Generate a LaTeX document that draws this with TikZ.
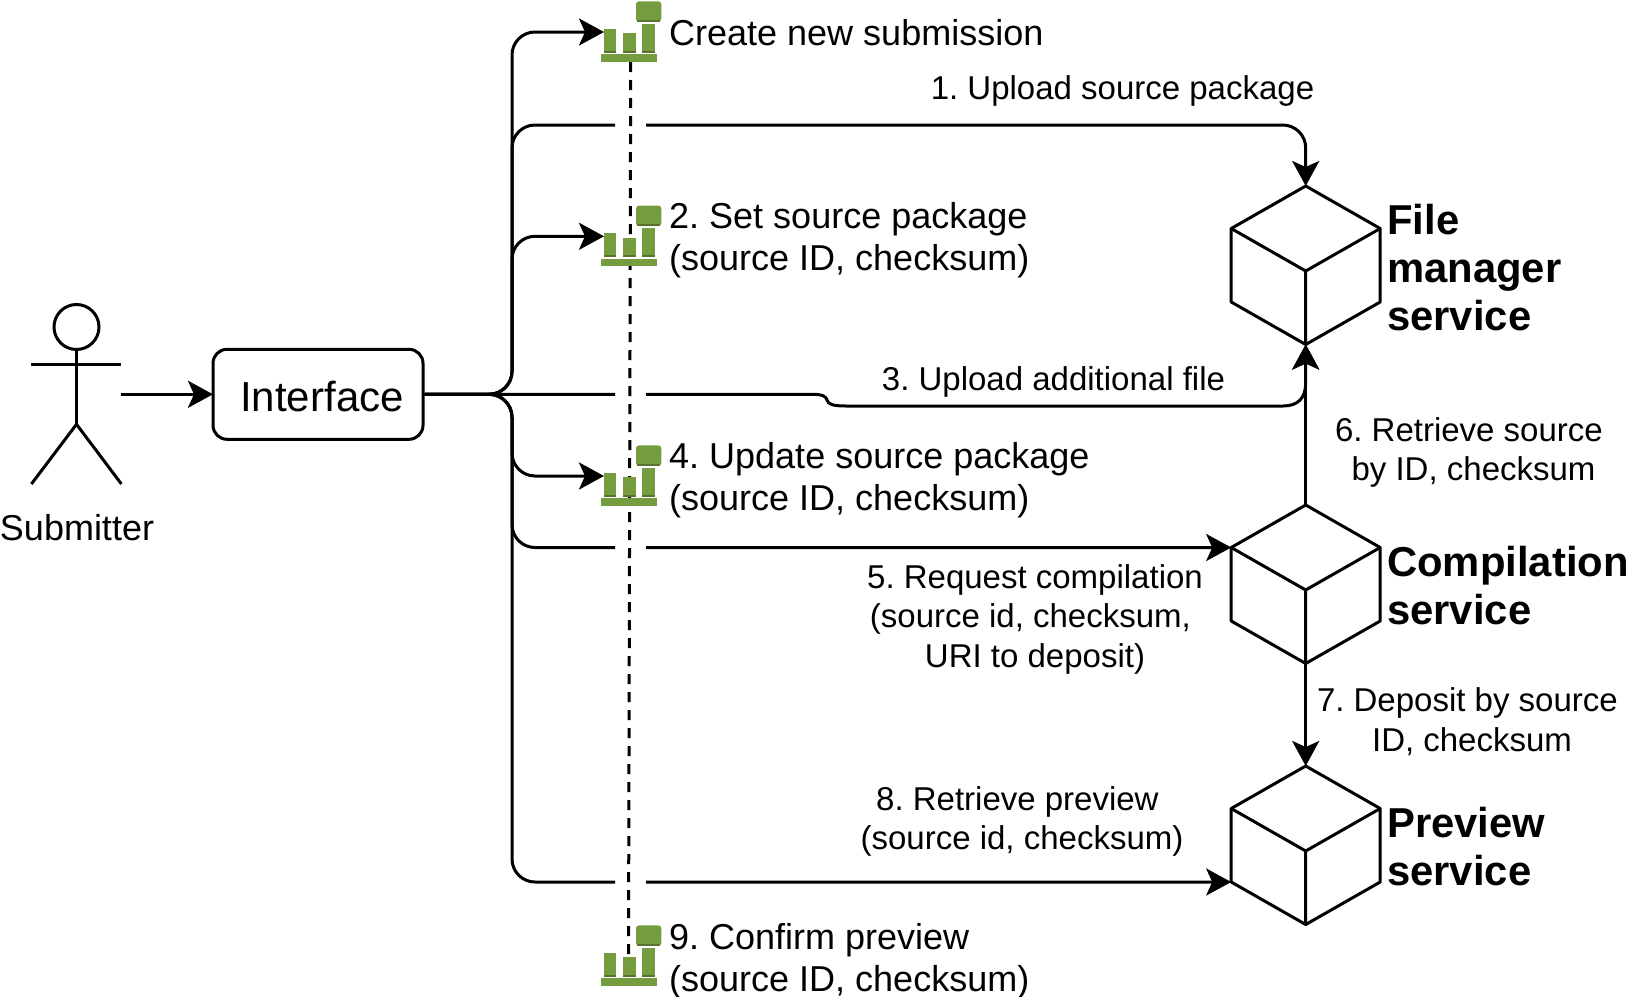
\documentclass[tikz,border=0pt]{standalone}
\usepackage{fontspec}
\setmainfont{Liberation Sans}
\usetikzlibrary{arrows.meta}
\definecolor{icongreen}{HTML}{759C3E}
\definecolor{icondark}{HTML}{4B612C}
\newcommand{\tsp}{\hbox to 9.2pt{}}
\tikzset{
  x=1pt,y=-1pt,
  line join=miter,
  conn/.style={line width=3pt,black,-{Stealth[length=25pt,width=27pt,inset=6pt]},rounded corners=23pt},
  shape line/.style={line width=3pt,black},
  lab/.style={font=\frenchspacing\fontsize{33}{39.5}\selectfont,align=center,inner sep=0pt,text=black},
  labl/.style={font=\frenchspacing\fontsize{36}{41.7}\selectfont,align=left,anchor=west,inner sep=0pt,text=black},
  svc/.style={font=\bfseries\fontsize{41.8}{48}\selectfont,align=left,anchor=west,inner sep=0pt,text=black},
  cube/.pic={
    \coordinate (-top) at (0,0);
    \coordinate (-bottom) at (0,158.5);
    \coordinate (-west) at (-74.5,42.5);
    \coordinate (-sw) at (-74.5,116);
    \draw[shape line,fill=white,line join=round] (0,0) -- (74.5,42.5) -- (74.5,116) -- (0,158.5) -- (-74.5,116) -- (-74.5,42.5) -- cycle;
    \draw[shape line,line join=round] (-74.5,42.5) -- (0,85) -- (74.5,42.5) (0,85) -- (0,158.5);
  },
  barsicon/.pic={
    \fill[icongreen] (2.7,29) rectangle (14.7,53);
    \fill[icongreen] (22,33.3) rectangle (34.7,53);
    \fill[icongreen] (41,24) rectangle (53.7,53);
    \fill[icondark!70!icongreen] (2.7,50.5) rectangle (14.7,53);
    \fill[icondark!70!icongreen] (22,50.5) rectangle (34.7,53);
    \fill[icondark!70!icongreen] (41,50.5) rectangle (53.7,53);
    \fill[icongreen] (0,54.3) rectangle (56,61.7);
    \fill[icongreen,rounded corners=3pt] (34.7,1.3) rectangle (60,21.7);
    \fill[icondark!70!icongreen] (36,20) rectangle (58.7,21.7);
  },
}
\begin{document}
\begin{tikzpicture}
\useasboundingbox (0,0) rectangle (1632,996);

% actor
\coordinate (actor) at (121.4,394.3);
\node[draw,circle,line width=3pt,minimum size=45pt,inner sep=0pt] (head) at (76.5,327) {};
\draw[shape line] (head.south) -- (76.5,424.3) coordinate (hip);
\draw[shape line] (31.4,364.3) -- (121.4,364.3);
\draw[shape line,line join=round] (31.4,484) -- (hip) -- (121.4,484);
\node[font=\fontsize{36}{40}\selectfont,inner sep=0pt] (submitter) at (77,527.5) {Submitter};

% interface
\node[draw,line width=3pt,rounded corners=14pt,minimum width=210pt,minimum height=90pt,inner sep=0pt] (interface) at (318,394.3) {};
\node[font=\fontsize{42}{45}\selectfont,inner sep=0pt] (interfacetext) at (322,397) {Interface};
\draw[conn,rounded corners=0pt,shorten >=-1.5pt] (actor) -- (interface.west);

% services
\path (1305.7,186) pic (file) {cube};
\path (1305.7,505) pic (comp) {cube};
\path (1305.7,766) pic (prev) {cube};

% lifeline
\coordinate (lifetop) at (630.7,62);
\coordinate (lifebottom) at (628.5,958);
\draw[line width=3pt,dash pattern=on 10pt off 8pt] (lifetop) -- (lifebottom);

% icons
\path (601.3,0) pic {barsicon};
\path (601.3,204.3) pic {barsicon};
\path (601.3,444) pic {barsicon};
\path (601.3,924) pic {barsicon};
\coordinate (icon1) at (604,32);
\coordinate (icon2) at (604,236.3);
\coordinate (icon4) at (604,476);

% connectors
\draw[conn] (interface.east) -- (512,394.3) -- (512,32) -- (icon1);
\draw[conn] (interface.east) -- (512,394.3) -- (512,236.3) -- (icon2);
\draw[conn] (interface.east) -- (512,394.3) -- (512,476) -- (icon4);
\draw[conn] (interface.east) -- (512,394.3) -- (512,125) -- (615,125) (646,125) -- (file-top |- 0,125) -- (file-top);
\draw[conn,sharp corners] (interface.east) -- (615,394.3) (646,394.3) -- (812,394.3) .. controls (824,394.3) and (826,397) .. (827,400) .. controls (828,404) and (832,406) .. (846,406) -- (1283,406) .. controls (1298,406) and (1305.7,398) .. (1305.7,383) -- (file-bottom);
\draw[conn] (interface.east) -- (512,394.3) -- (512,547.5) -- (615,547.5) (646,547.5) -- (comp-west);
\draw[conn] (interface.east) -- (512,394.3) -- (512,882) -- (615,882) (646,882) -- (prev-sw);
\draw[conn,rounded corners=0pt] (comp-top) -- (file-bottom);
\draw[conn,rounded corners=0pt] (comp-bottom) -- (prev-top);

% step labels beside icons
\node[labl] (t0) at (669,33) {Create new submission};
\node[labl] (t2) at (669,240.5) {2. Set source package\\(source ID, checksum)};
\node[labl] (t4) at (669,480.5) {4. Update source package\\(source ID, checksum)};
\node[labl] (t9) at (669,961) {9. Confirm preview\\(source ID, checksum)};

% connector labels
\node[lab] (l1) at (1122.5,90.6) {1. Upload source package};
\node[lab] (l3) at (1053.5,381.5) {3. Upload additional file};
\node[lab] (l5) at (1035,619) {5. Request compilation\\(source id, checksum,\tsp\\URI to deposit)};
\node[lab] (l6) at (1473.5,452.5) {6. Retrieve source\tsp\\by ID, checksum};
\node[lab] (l7) at (1472,721.5) {7. Deposit by source\tsp\\ID, checksum};
\node[lab] (l8) at (1022,821.5) {8. Retrieve preview\tsp\\(source id, checksum)};

% service names
\node[svc] (n1) at (1387,268) {File\\manager\\service};
\node[svc] (n2) at (1387,586) {Compilation\\service};
\node[svc] (n3) at (1387,847) {Preview\\service};
\end{tikzpicture}
\end{document}
